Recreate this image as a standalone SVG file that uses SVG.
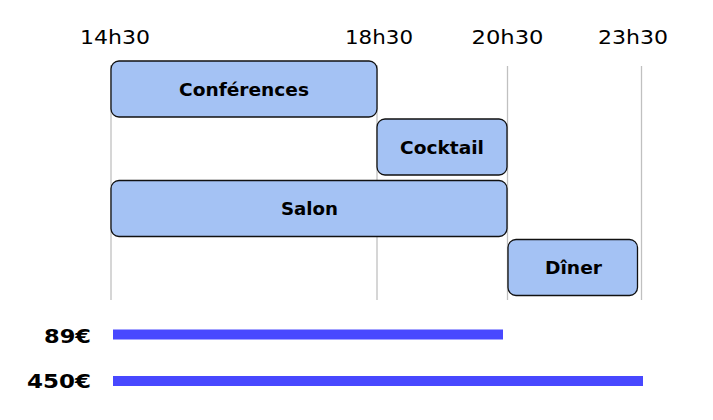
<svg xmlns="http://www.w3.org/2000/svg" width="713" height="420" viewBox="0 0 713 420">
<style>
.tick{font-family:"DejaVu Sans","Liberation Sans",sans-serif;font-size:20px;fill:#000;text-anchor:middle}
.grid{stroke:#c0c0c0;stroke-width:1.3}
.box{fill:#a4c2f4;stroke:#111;stroke-width:1.3}
.lbl{font-family:"DejaVu Sans","Liberation Sans",sans-serif;font-size:17px;font-weight:700;fill:#000;text-anchor:middle}
.bar{fill:#4848ff}
.price{font-family:"DejaVu Sans","Liberation Sans",sans-serif;font-size:20px;font-weight:700;fill:#000;text-anchor:end}
</style>
<rect width="713" height="420" fill="#fff"/>
<g id="axis">
<text class="tick" x="115" y="44" textLength="70" lengthAdjust="spacingAndGlyphs">14h30</text>
<text class="tick" x="379" y="44" textLength="68" lengthAdjust="spacingAndGlyphs">18h30</text>
<text class="tick" x="507.5" y="44" textLength="72" lengthAdjust="spacingAndGlyphs">20h30</text>
<text class="tick" x="633" y="44" textLength="70" lengthAdjust="spacingAndGlyphs">23h30</text>
<line class="grid" x1="111" y1="65" x2="111" y2="300"/>
<line class="grid" x1="377" y1="65" x2="377" y2="300"/>
<line class="grid" x1="507.5" y1="66" x2="507.5" y2="300"/>
<line class="grid" x1="641.5" y1="66" x2="641.5" y2="300"/>
</g>
<g id="connectors"></g>
<g id="conferences">
<rect class="box" x="111" y="61" width="266" height="56" rx="8"/>
<text class="lbl" x="244" y="95.5" textLength="130" lengthAdjust="spacingAndGlyphs">Conférences</text>
</g>
<g id="cocktail">
<rect class="box" x="377" y="119" width="130" height="56" rx="8"/>
<text class="lbl" x="442" y="153.5" textLength="84" lengthAdjust="spacingAndGlyphs">Cocktail</text>
</g>
<g id="salon">
<rect class="box" x="111" y="180.5" width="396" height="56" rx="8"/>
<text class="lbl" x="309.5" y="215" textLength="57" lengthAdjust="spacingAndGlyphs">Salon</text>
</g>
<g id="diner">
<rect class="box" x="508" y="239.5" width="129.5" height="56" rx="8"/>
<text class="lbl" x="573.5" y="274" textLength="57" lengthAdjust="spacingAndGlyphs">Dîner</text>
</g>
<g id="price89">
<text class="price" x="91" y="342.5" textLength="47" lengthAdjust="spacingAndGlyphs">89€</text>
<rect class="bar" x="113" y="329.5" width="390" height="10"/>
</g>
<g id="price450">
<text class="price" x="91" y="387.5" textLength="64" lengthAdjust="spacingAndGlyphs">450€</text>
<rect class="bar" x="113" y="376" width="530" height="10"/>
</g>
</svg>
